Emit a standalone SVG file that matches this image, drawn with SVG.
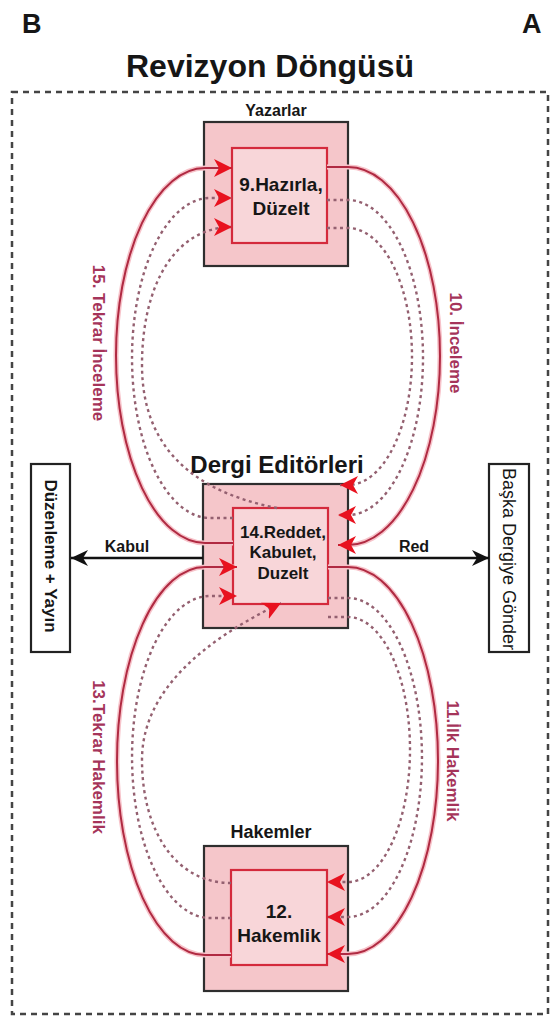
<svg xmlns="http://www.w3.org/2000/svg" width="553" height="1017" viewBox="0 0 553 1017">
  <style>
    .lbl { font-family: "Liberation Sans", Arial, sans-serif; font-weight: bold; fill: #161616; }
    .flow { font-family: "Liberation Sans", Arial, sans-serif; font-weight: bold; font-size: 17px; fill: #a5345a; }
    .outer { fill: #f5c6ca; stroke: #2e2e2e; stroke-width: 2.2; }
    .inner { fill: #f8d6d9; stroke: #d42a3c; stroke-width: 2.2; }
    .side { fill: #ffffff; stroke: #222222; stroke-width: 2.2; }
    .halo { fill: none; stroke: #f7c3ca; stroke-width: 5; }
    .solid { fill: none; stroke: #b02a42; stroke-width: 2; }
    .dots { fill: none; stroke: #946070; stroke-width: 2.4; stroke-dasharray: 3 3.5; }
  </style>
  <defs>
    <marker id="redHead" markerUnits="userSpaceOnUse" markerWidth="19" markerHeight="18" refX="18" refY="9" orient="auto">
      <path d="M0,0 L18,9 L0,18 L5,9 z" fill="#e8121f"/>
    </marker>
    <marker id="blackHead" markerUnits="userSpaceOnUse" markerWidth="18" markerHeight="16" refX="17" refY="8" orient="auto">
      <path d="M0,0 L17,8 L0,16 L5,8 z" fill="#111111"/>
    </marker>
  </defs>

  <rect width="553" height="1017" fill="#ffffff"/>

  <!-- panel letters and heading -->
  <text class="lbl" x="22" y="33" font-size="27">B</text>
  <text class="lbl" x="522" y="33" font-size="27">A</text>
  <text class="lbl" x="270" y="77" font-size="32" text-anchor="middle">Revizyon Döngüsü</text>

  <!-- dashed frame -->
  <rect x="12" y="92" width="536" height="922" fill="none" stroke="#444444" stroke-width="2.5" stroke-dasharray="6 5"/>

  <!-- role boxes -->
  <g id="yazarlar">
    <text class="lbl" x="276" y="116" font-size="16" text-anchor="middle">Yazarlar</text>
    <rect class="outer" x="204" y="122" width="144" height="144"/>
    <rect class="inner" x="232" y="148" width="95" height="95"/>
    <text class="lbl" x="281" y="191" font-size="19" text-anchor="middle">9.Hazırla,</text>
    <text class="lbl" x="281" y="215" font-size="19" text-anchor="middle">Düzelt</text>
  </g>

  <g id="editorler">
    <text class="lbl" x="277" y="473" font-size="24" text-anchor="middle">Dergi Editörleri</text>
    <rect class="outer" x="203" y="484" width="145" height="144"/>
    <rect class="inner" x="233" y="508" width="95" height="96"/>
    <text class="lbl" x="283" y="538" font-size="17" text-anchor="middle">14.Reddet,</text>
    <text class="lbl" x="283" y="558" font-size="17" text-anchor="middle">Kabulet,</text>
    <text class="lbl" x="283" y="579" font-size="17" text-anchor="middle">Duzelt</text>
  </g>

  <g id="hakemler">
    <text class="lbl" x="271" y="838" font-size="18" text-anchor="middle">Hakemler</text>
    <rect class="outer" x="204" y="846" width="144" height="145"/>
    <rect class="inner" x="231" y="870" width="96" height="95"/>
    <text class="lbl" x="279" y="918" font-size="19" text-anchor="middle">12.</text>
    <text class="lbl" x="279" y="942" font-size="19" text-anchor="middle">Hakemlik</text>
  </g>

  <g id="yayin">
    <rect class="side" x="31" y="464" width="39" height="188"/>
    <text class="lbl" font-size="17" text-anchor="middle" dominant-baseline="central" transform="translate(50,556) rotate(90)">Düzenleme + Yayın</text>
  </g>

  <g id="baska-dergi">
    <rect class="side" x="489" y="464" width="40" height="188"/>
    <text font-family="Liberation Sans, Arial, sans-serif" font-size="18" fill="#161616" dominant-baseline="central" transform="translate(509,468) rotate(90)">Başka Dergiye Gönder</text>
  </g>

  <!-- connectors -->
  <g id="connectors">
    <!-- light halo under the solid curves -->
    <g class="halo">
      <path d="M233,543 L205,543 A89,187.5 0 0 1 205,168 L230,168"/>
      <path d="M327,167 L348,167 A92,189 0 0 1 348,545 L340,545"/>
      <path d="M231,955 L205,955 A88,194 0 0 1 205,567 L235,567"/>
      <path d="M328,567 L348,567 A90,193.5 0 0 1 348,954 L329,954"/>
    </g>

    <!-- 15. Tekrar İnceleme : editors back to authors -->
    <path class="solid" d="M233,543 L205,543 A89,187.5 0 0 1 205,168 L232,168" marker-end="url(#redHead)"/>
    <path class="dots" d="M233,518 L210,518 A78,160 0 0 1 210,198 L232,198" marker-end="url(#redHead)"/>
    <path class="dots" d="M277,508 C210,495 142,460 142,365 C142,285 175,227 232,227" marker-end="url(#redHead)"/>

    <!-- 10. İnceleme : authors to editors -->
    <path class="solid" d="M327,167 L348,167 A92,189 0 0 1 348,545 L338,545" marker-end="url(#redHead)"/>
    <path class="dots" d="M327,200 L348,200 A75,157.5 0 0 1 348,515 L338,515" marker-end="url(#redHead)"/>
    <path class="dots" d="M327,228 L348,228 A64,128.5 0 0 1 348,485 L340,485" marker-end="url(#redHead)"/>

    <!-- 11. İlk Hakemlik : editors to reviewers -->
    <path class="solid" d="M328,567 L348,567 A90,193.5 0 0 1 348,954 L327,954" marker-end="url(#redHead)"/>
    <path class="dots" d="M328,598 L348,598 A74,159.5 0 0 1 348,917 L327,917" marker-end="url(#redHead)"/>
    <path class="dots" d="M328,617 L348,617 A62,132.5 0 0 1 348,882 L327,882" marker-end="url(#redHead)"/>

    <!-- 13. Tekrar Hakemlik : reviewers back to editors -->
    <path class="solid" d="M231,955 L205,955 A88,194 0 0 1 205,567 L237,567" marker-end="url(#redHead)"/>
    <path class="dots" d="M231,918 L210,918 A78,161 0 0 1 210,596 L237,596" marker-end="url(#redHead)"/>
    <path class="dots" d="M231,883 C175,883 142,830 142,760 C142,690 205,640 281,603" marker-end="url(#redHead)"/>

    <!-- decision arrows -->
    <path d="M203,558 L71,558" stroke="#111111" stroke-width="2.5" fill="none" marker-end="url(#blackHead)"/>
    <path d="M348,558 L489,558" stroke="#111111" stroke-width="2.5" fill="none" marker-end="url(#blackHead)"/>
    <text class="lbl" x="127" y="552" font-size="16" text-anchor="middle">Kabul</text>
    <text class="lbl" x="414" y="552" font-size="16" text-anchor="middle">Red</text>

    <!-- flow labels -->
    <text class="flow" text-anchor="middle" dominant-baseline="central" transform="translate(98,343) rotate(90)">15. Tekrar İnceleme</text>
    <text class="flow" text-anchor="middle" dominant-baseline="central" transform="translate(455,343) rotate(90)">10. İnceleme</text>
    <text class="flow" text-anchor="middle" dominant-baseline="central" transform="translate(98,757) rotate(90)">13.Tekrar Hakemlik</text>
    <text class="flow" text-anchor="middle" dominant-baseline="central" transform="translate(452,761) rotate(90)">11.İlk Hakemlik</text>
  </g>
</svg>
